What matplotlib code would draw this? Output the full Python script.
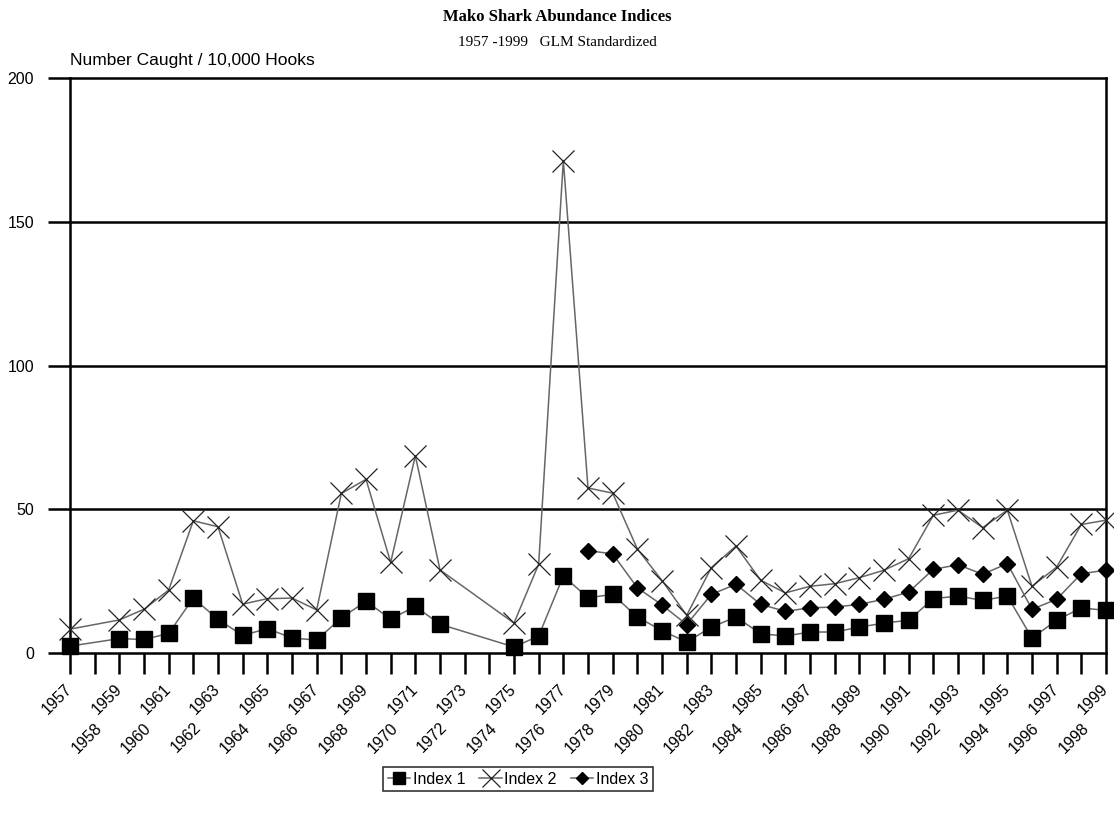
import matplotlib
matplotlib.use("Agg")
import matplotlib.pyplot as plt
import matplotlib.transforms as mtransforms
import numpy as np

plt.rcParams["font.family"] = ["Liberation Sans", "DejaVu Sans"]

# Catch rates (number caught per 10,000 hooks); NaN = no index that year
years = list(range(1957, 2000))
nan = np.nan

index1 = [2.4, nan, 5.0, 4.7, 6.8, 19.1, 11.7, 6.1, 8.5, 5.2, 4.5, 12.2,
          18.0, 11.8, 16.2, 10.0, nan, nan, 2.1, 5.9, 26.8, 19.2, 20.4, 12.5,
          7.8, 3.8, 9.0, 12.5, 6.7, 5.9, 7.3, 7.3, 9.0, 10.4, 11.4, 18.9,
          19.8, 18.3, 19.8, 5.2, 11.4, 15.7, 14.8]

index2 = [8.3, nan, 11.5, 15.2, 21.9, 46.0, 43.9, 17.0, 18.9, 19.1, 15.0, 55.5,
          60.4, 31.5, 68.6, 28.9, nan, nan, 10.4, 30.9, 171.3, 57.4, 55.6, 36.2,
          25.2, 13.1, 29.7, 37.2, 25.3, 20.9, 23.2, 24.1, 26.2, 28.8, 32.8, 47.9,
          49.7, 43.6, 49.7, 23.2, 29.9, 44.7, 46.2]

index3 = [nan] * 21 + [35.6, 34.5, 22.7, 16.7, 9.9, 20.4, 23.9, 16.9, 14.5,
                       15.7, 16.0, 16.9, 18.7, 21.2, 29.1, 30.7, 27.4, 31.1,
                       15.2, 18.7, 27.6, 28.8]

yticks = [0, 50, 100, 150, 200]


def _series(vals):
    # drop missing years so the line joins the neighbouring points
    x = np.array(years, dtype=float)
    y = np.array(vals, dtype=float)
    ok = ~np.isnan(y)
    return x[ok], y[ok]


fig = plt.figure(figsize=(11.14, 8.19), dpi=100)
ax = fig.add_axes([70 / 1114, 1 - 653 / 819, (1106 - 70) / 1114, (653 - 78) / 819])

line_col = "#666666"
x1, y1 = _series(index1)
x2, y2 = _series(index2)
x3, y3 = _series(index3)
ax.plot(x1, y1, color=line_col, lw=1.1, marker="s", ms=11, mfc="black",
        mec="black", label="Index 1", zorder=4, clip_on=False)
ax.plot(x2, y2, color=line_col, lw=1.1, marker="x", ms=16, mew=0.9,
        mec="#222222", label="Index 2", zorder=3, clip_on=False)
ax.plot(x3, y3, color=line_col, lw=1.1, marker="D", ms=8, mfc="black",
        mec="black", label="Index 3", zorder=5, clip_on=False)

ax.set_xlim(1957, 1999)
ax.set_ylim(0, 200)

# horizontal rules at each 50
for v in yticks[1:-1]:
    ax.axhline(v, color="black", lw=1.8, zorder=1)

for side in ["left", "right", "top", "bottom"]:
    ax.spines[side].set_linewidth(1.8)
    ax.spines[side].set_color("black")

fs = 11.5
ax.set_yticks(yticks)
ax.set_yticklabels([str(v) for v in yticks], fontsize=fs)
ax.tick_params(axis="y", length=16, width=1.8, pad=10)

# odd years on the first row, even years staggered below
odd = [y for y in years if y % 2 == 1]
even = [y for y in years if y % 2 == 0]
ax.set_xticks(odd)
ax.set_xticklabels([str(y) for y in odd], fontsize=fs, rotation=45,
                   ha="right", rotation_mode="anchor", va="center")
ax.set_xticks(even, minor=True)
ax.set_xticklabels([str(y) for y in even], minor=True, fontsize=fs,
                   rotation=45, ha="right", rotation_mode="anchor", va="center")
ax.tick_params(axis="x", which="major", length=15, width=1.8, pad=9)
ax.tick_params(axis="x", which="minor", length=15, width=1.8, pad=37)
shift = mtransforms.ScaledTranslation(5 / 100, 0, fig.dpi_scale_trans)
for lbl in ax.get_xticklabels(minor=True):
    lbl.set_transform(lbl.get_transform() + shift)

fig.text(0.5, 1 - 17 / 819, "Mako Shark Abundance Indices", ha="center",
         va="center", fontsize=12, fontweight="bold", family="Liberation Serif")
fig.text(0.5, 1 - 43 / 819, "1957 -1999   GLM Standardized", ha="center",
         va="center", fontsize=11, family="Liberation Serif")
fig.text(70 / 1114, 1 - 61 / 819, "Number Caught / 10,000 Hooks", ha="left",
         va="center", fontsize=12.5)

leg = fig.legend(loc="center", bbox_to_anchor=(518 / 1114, 1 - 779 / 819),
                 ncol=3, frameon=True, fancybox=False, edgecolor="black",
                 fontsize=fs, handlelength=1.4, handletextpad=0.15,
                 columnspacing=0.9, borderpad=0.3, markerscale=0.8)
leg.get_frame().set_linewidth(1.2)

fig.savefig("out.png", dpi=100, facecolor="white")
